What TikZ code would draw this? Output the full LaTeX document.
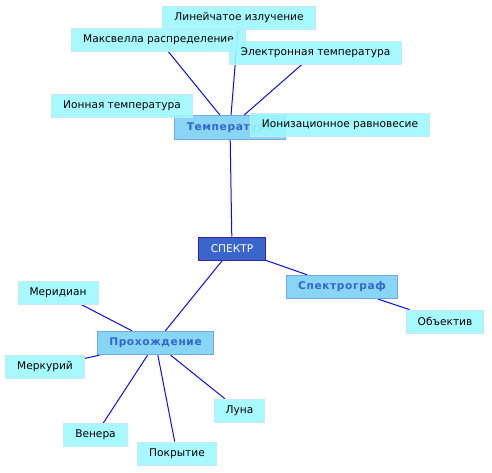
\documentclass[tikz,border=0pt]{standalone}
\usepackage{fontspec}
\setmainfont{DejaVu Sans}
\newfontfamily\spacedfont[LetterSpace=6]{DejaVu Sans}
\usepackage{tikz}
\usetikzlibrary{backgrounds}
\definecolor{mmleaf}{HTML}{9CF8FF}
\definecolor{mmleafline}{HTML}{C8E8F8}
\definecolor{mmmid}{HTML}{7CD0F4}
\definecolor{mmmidline}{HTML}{70A8E8}
\definecolor{mmmidtext}{HTML}{3366CC}
\definecolor{mmroot}{HTML}{3A66CC}
\definecolor{mmrootline}{HTML}{4020A0}
\definecolor{mmedge}{HTML}{0C0CF4}

\begin{document}
\begin{tikzpicture}[
  x=1pt, y=-1pt,
  font=\fontsize{10.6}{12}\selectfont,
  line cap=round, line join=round,
  leaf/.style={draw=mmleafline, fill=mmleaf, fill opacity=0.88, text opacity=1,
               line width=0.8pt, inner xsep=11.5pt, minimum height=23pt},
  mid/.style={draw=mmmidline, fill=mmmid, fill opacity=0.9, text opacity=1,
              line width=0.8pt, inner xsep=12pt, minimum height=23.5pt,
              text=mmmidtext, font=\fontsize{10.6}{12}\selectfont\spacedfont\bfseries},
  root/.style={draw=mmrootline, fill=mmroot, text=white, line width=1pt,
               inner xsep=12pt, minimum height=23pt},
  link/.style={draw=mmedge, line width=1pt},
]
\useasboundingbox (0,0) rectangle (492,473);

% ----- centre -----
\node[root] (spektr) at (232,248.5) {СПЕКТР};

% ----- upper branch -----
\node[mid] (temp) at (230,127.5) {Температура};
\node[leaf] (linei) at (239,18) {Линейчатое излучение};
\node[leaf] (maxw) at (158.5,39.5) {Максвелла распределение};
\node[leaf] (elek) at (315.5,52.5) {Электронная температура};
\node[leaf] (ion) at (122,105.5) {Ионная температура};
\node[leaf] (ioniz) at (340,124.5) {Ионизационное равновесие};

% ----- right branch -----
\node[mid] (spgraf) at (342,287) {Спектрограф};
\node[leaf] (obj) at (445,321.5) {Объектив};

% ----- lower branch -----
\node[mid] (proh) at (155.5,343) {Прохождение};
\node[leaf] (merid) at (58,292.5) {Меридиан};
\node[leaf] (merk) at (45,367) {Меркурий};
\node[leaf] (luna) at (239.5,410.5) {Луна};
\node[leaf] (venera) at (95.5,435) {Венера};
\node[leaf] (pokr) at (177,453.5) {Покрытие};

% ----- connectors, under the boxes -----
\begin{scope}[on background layer]
\draw[link] (spektr) -- (temp);
\draw[link] (temp) -- (linei);
\draw[link] (temp) -- (maxw);
\draw[link] (temp) -- (elek);
\draw[link] (temp) -- (ion);
\draw[link] (temp) -- (ioniz);
\draw[link] (spektr) -- (spgraf);
\draw[link] (spgraf) -- (obj);
\draw[link] (spektr) -- (proh);
\draw[link] (proh) -- (merid);
\draw[link] (proh) -- (merk);
\draw[link] (proh) -- (luna);
\draw[link] (proh) -- (venera);
\draw[link] (proh) -- (pokr);
\end{scope}
\end{tikzpicture}
\end{document}
